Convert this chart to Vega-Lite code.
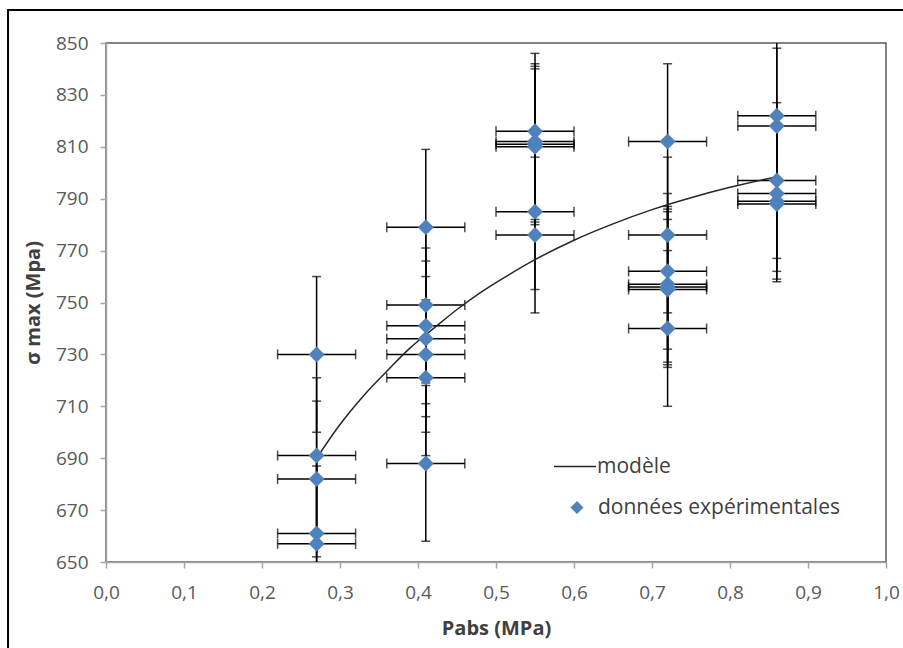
{
  "$schema": "https://vega.github.io/schema/vega-lite/v6.json",
  "width": 780,
  "height": 519,
  "padding": {"left": 7, "top": 9, "right": 0, "bottom": 0},
  "background": "white",
  "config": {
    "font": "Open Sans",
    "view": {"stroke": "#595959", "strokeWidth": 1.5},
    "axis": {
      "grid": false,
      "domainColor": "#a6a6a6",
      "domainWidth": 1.5,
      "tickColor": "#a6a6a6",
      "tickWidth": 1.5,
      "tickSize": 6,
      "labelColor": "#595959",
      "labelFontSize": 19,
      "labelFont": "Open Sans",
      "titleFont": "Open Sans",
      "titleFontSize": 20,
      "titleFontWeight": "bold",
      "titleColor": "#404040",
      "labelOverlap": false
    },
    "legend": {
      "labelFont": "Open Sans",
      "labelFontSize": 21,
      "labelColor": "#404040",
      "labelLimit": 400,
      "padding": 0,
      "rowPadding": 0
    }
  },
  "datasets": {
    "pts": [
      {"p": 0.27, "s": 730, "s_lo": 700, "s_hi": 760, "p_lo": 0.22, "p_hi": 0.32},
      {"p": 0.27, "s": 691, "s_lo": 661, "s_hi": 721, "p_lo": 0.22, "p_hi": 0.32},
      {"p": 0.27, "s": 682, "s_lo": 652, "s_hi": 712, "p_lo": 0.22, "p_hi": 0.32},
      {"p": 0.27, "s": 661, "s_lo": 631, "s_hi": 691, "p_lo": 0.22, "p_hi": 0.32},
      {"p": 0.27, "s": 657, "s_lo": 627, "s_hi": 687, "p_lo": 0.22, "p_hi": 0.32},
      {"p": 0.41, "s": 779, "s_lo": 749, "s_hi": 809, "p_lo": 0.36, "p_hi": 0.46},
      {"p": 0.41, "s": 749, "s_lo": 719, "s_hi": 779, "p_lo": 0.36, "p_hi": 0.46},
      {"p": 0.41, "s": 741, "s_lo": 711, "s_hi": 771, "p_lo": 0.36, "p_hi": 0.46},
      {"p": 0.41, "s": 736, "s_lo": 706, "s_hi": 766, "p_lo": 0.36, "p_hi": 0.46},
      {"p": 0.41, "s": 730, "s_lo": 700, "s_hi": 760, "p_lo": 0.36, "p_hi": 0.46},
      {"p": 0.41, "s": 721, "s_lo": 691, "s_hi": 751, "p_lo": 0.36, "p_hi": 0.46},
      {"p": 0.41, "s": 688, "s_lo": 658, "s_hi": 718, "p_lo": 0.36, "p_hi": 0.46},
      {"p": 0.55, "s": 816, "s_lo": 786, "s_hi": 846, "p_lo": 0.50, "p_hi": 0.60},
      {"p": 0.55, "s": 812, "s_lo": 782, "s_hi": 842, "p_lo": 0.50, "p_hi": 0.60},
      {"p": 0.55, "s": 811, "s_lo": 781, "s_hi": 841, "p_lo": 0.50, "p_hi": 0.60},
      {"p": 0.55, "s": 810, "s_lo": 780, "s_hi": 840, "p_lo": 0.50, "p_hi": 0.60},
      {"p": 0.55, "s": 785, "s_lo": 755, "s_hi": 815, "p_lo": 0.50, "p_hi": 0.60},
      {"p": 0.55, "s": 776, "s_lo": 746, "s_hi": 806, "p_lo": 0.50, "p_hi": 0.60},
      {"p": 0.72, "s": 812, "s_lo": 782, "s_hi": 842, "p_lo": 0.67, "p_hi": 0.77},
      {"p": 0.72, "s": 776, "s_lo": 746, "s_hi": 806, "p_lo": 0.67, "p_hi": 0.77},
      {"p": 0.72, "s": 762, "s_lo": 732, "s_hi": 792, "p_lo": 0.67, "p_hi": 0.77},
      {"p": 0.72, "s": 757, "s_lo": 727, "s_hi": 787, "p_lo": 0.67, "p_hi": 0.77},
      {"p": 0.72, "s": 756, "s_lo": 726, "s_hi": 786, "p_lo": 0.67, "p_hi": 0.77},
      {"p": 0.72, "s": 755, "s_lo": 725, "s_hi": 785, "p_lo": 0.67, "p_hi": 0.77},
      {"p": 0.72, "s": 740, "s_lo": 710, "s_hi": 770, "p_lo": 0.67, "p_hi": 0.77},
      {"p": 0.86, "s": 822, "s_lo": 792, "s_hi": 852, "p_lo": 0.81, "p_hi": 0.91},
      {"p": 0.86, "s": 818, "s_lo": 788, "s_hi": 848, "p_lo": 0.81, "p_hi": 0.91},
      {"p": 0.86, "s": 797, "s_lo": 767, "s_hi": 827, "p_lo": 0.81, "p_hi": 0.91},
      {"p": 0.86, "s": 792, "s_lo": 762, "s_hi": 822, "p_lo": 0.81, "p_hi": 0.91},
      {"p": 0.86, "s": 789, "s_lo": 759, "s_hi": 819, "p_lo": 0.81, "p_hi": 0.91},
      {"p": 0.86, "s": 788, "s_lo": 758, "s_hi": 818, "p_lo": 0.81, "p_hi": 0.91}
    ],
    "model": [
      {"p": 0.27, "s": 690},
      {"p": 0.30, "s": 703},
      {"p": 0.33, "s": 714},
      {"p": 0.36, "s": 723.5},
      {"p": 0.39, "s": 732.5},
      {"p": 0.42, "s": 740},
      {"p": 0.45, "s": 747.3},
      {"p": 0.48, "s": 753.8},
      {"p": 0.51, "s": 759.5},
      {"p": 0.55, "s": 766.5},
      {"p": 0.60, "s": 774},
      {"p": 0.65, "s": 780.3},
      {"p": 0.70, "s": 785.8},
      {"p": 0.75, "s": 790.4},
      {"p": 0.80, "s": 794.4},
      {"p": 0.86, "s": 798.5}
    ]
  },
  "layer": [
    {
      "data": {"values": [{}]},
      "mark": {"type": "rect", "fill": "transparent", "stroke": "black", "strokeWidth": 2, "clip": false},
      "encoding": {
        "x": {"datum": -0.1256, "type": "quantitative"},
        "x2": {"datum": 1.05},
        "y": {"datum": 862.7, "type": "quantitative"},
        "y2": {"datum": 600}
      }
    },
    {
      "data": {"name": "pts"},
      "mark": {"type": "rule", "color": "black", "strokeWidth": 1.5, "clip": true},
      "encoding": {
        "x": {
          "field": "p", "type": "quantitative", "title": "Pabs (MPa)",
          "scale": {"domain": [0, 1], "nice": false, "zero": false},
          "axis": {
            "values": [0, 0.1, 0.2, 0.3, 0.4, 0.5, 0.6, 0.7, 0.8, 0.9, 1],
            "labelExpr": "replace(format(datum.value, '.1f'), '.', ',')",
            "labelPadding": 15,
            "titlePadding": 16,
            "labelFlush": false
          }
        },
        "y": {
          "field": "s_lo", "type": "quantitative", "title": "σ max (Mpa)",
          "scale": {"domain": [650, 850], "nice": false, "zero": false},
          "axis": {
            "values": [650, 670, 690, 710, 730, 750, 770, 790, 810, 830, 850],
            "labelPadding": 12,
            "titlePadding": 12,
            "labelFlush": false
          }
        },
        "y2": {"field": "s_hi"}
      }
    },
    {
      "data": {"name": "pts"},
      "mark": {"type": "tick", "orient": "horizontal", "size": 9, "thickness": 1.5, "color": "black", "clip": true},
      "encoding": {
        "x": {"field": "p", "type": "quantitative", "title": "Pabs (MPa)"},
        "y": {"field": "s_lo", "type": "quantitative", "title": "σ max (Mpa)"}
      }
    },
    {
      "data": {"name": "pts"},
      "mark": {"type": "tick", "orient": "horizontal", "size": 9, "thickness": 1.5, "color": "black", "clip": true},
      "encoding": {
        "x": {"field": "p", "type": "quantitative", "title": "Pabs (MPa)"},
        "y": {"field": "s_hi", "type": "quantitative", "title": "σ max (Mpa)"}
      }
    },
    {
      "data": {"name": "pts"},
      "mark": {"type": "rule", "color": "black", "strokeWidth": 1.5, "clip": true},
      "encoding": {
        "x": {"field": "p_lo", "type": "quantitative", "title": "Pabs (MPa)"},
        "x2": {"field": "p_hi"},
        "y": {"field": "s", "type": "quantitative", "title": "σ max (Mpa)"}
      }
    },
    {
      "data": {"name": "pts"},
      "mark": {"type": "tick", "orient": "vertical", "size": 10, "thickness": 1.5, "color": "black", "clip": true},
      "encoding": {
        "x": {"field": "p_lo", "type": "quantitative", "title": "Pabs (MPa)"},
        "y": {"field": "s", "type": "quantitative", "title": "σ max (Mpa)"}
      }
    },
    {
      "data": {"name": "pts"},
      "mark": {"type": "tick", "orient": "vertical", "size": 10, "thickness": 1.5, "color": "black", "clip": true},
      "encoding": {
        "x": {"field": "p_hi", "type": "quantitative", "title": "Pabs (MPa)"},
        "y": {"field": "s", "type": "quantitative", "title": "σ max (Mpa)"}
      }
    },
    {
      "data": {"name": "model"},
      "mark": {"type": "line", "strokeWidth": 1.5, "interpolate": "monotone"},
      "encoding": {
        "x": {"field": "p", "type": "quantitative", "title": "Pabs (MPa)"},
        "y": {"field": "s", "type": "quantitative", "title": "σ max (Mpa)"},
        "stroke": {
          "datum": "modèle",
          "scale": {"range": ["#262626"]},
          "legend": {
            "title": null,
            "orient": "none",
            "legendX": 447,
            "legendY": 401.5,
            "symbolType": "stroke",
            "symbolSize": 1764,
            "symbolStrokeWidth": 1.5,
            "labelOffset": 0
          }
        }
      }
    },
    {
      "data": {"name": "pts"},
      "mark": {"type": "point", "shape": "diamond", "filled": true, "size": 256, "opacity": 1, "strokeWidth": 0},
      "encoding": {
        "x": {"field": "p", "type": "quantitative", "title": "Pabs (MPa)"},
        "y": {"field": "s", "type": "quantitative", "title": "σ max (Mpa)"},
        "fill": {
          "datum": "données expérimentales",
          "scale": {"range": ["#4f81bd"]},
          "legend": {
            "title": null,
            "orient": "none",
            "legendX": 460.5,
            "legendY": 454,
            "symbolType": "diamond",
            "symbolSize": 170,
            "symbolStrokeWidth": 0,
            "symbolOpacity": 1,
            "labelOffset": 10.5
          }
        }
      }
    }
  ]
}
